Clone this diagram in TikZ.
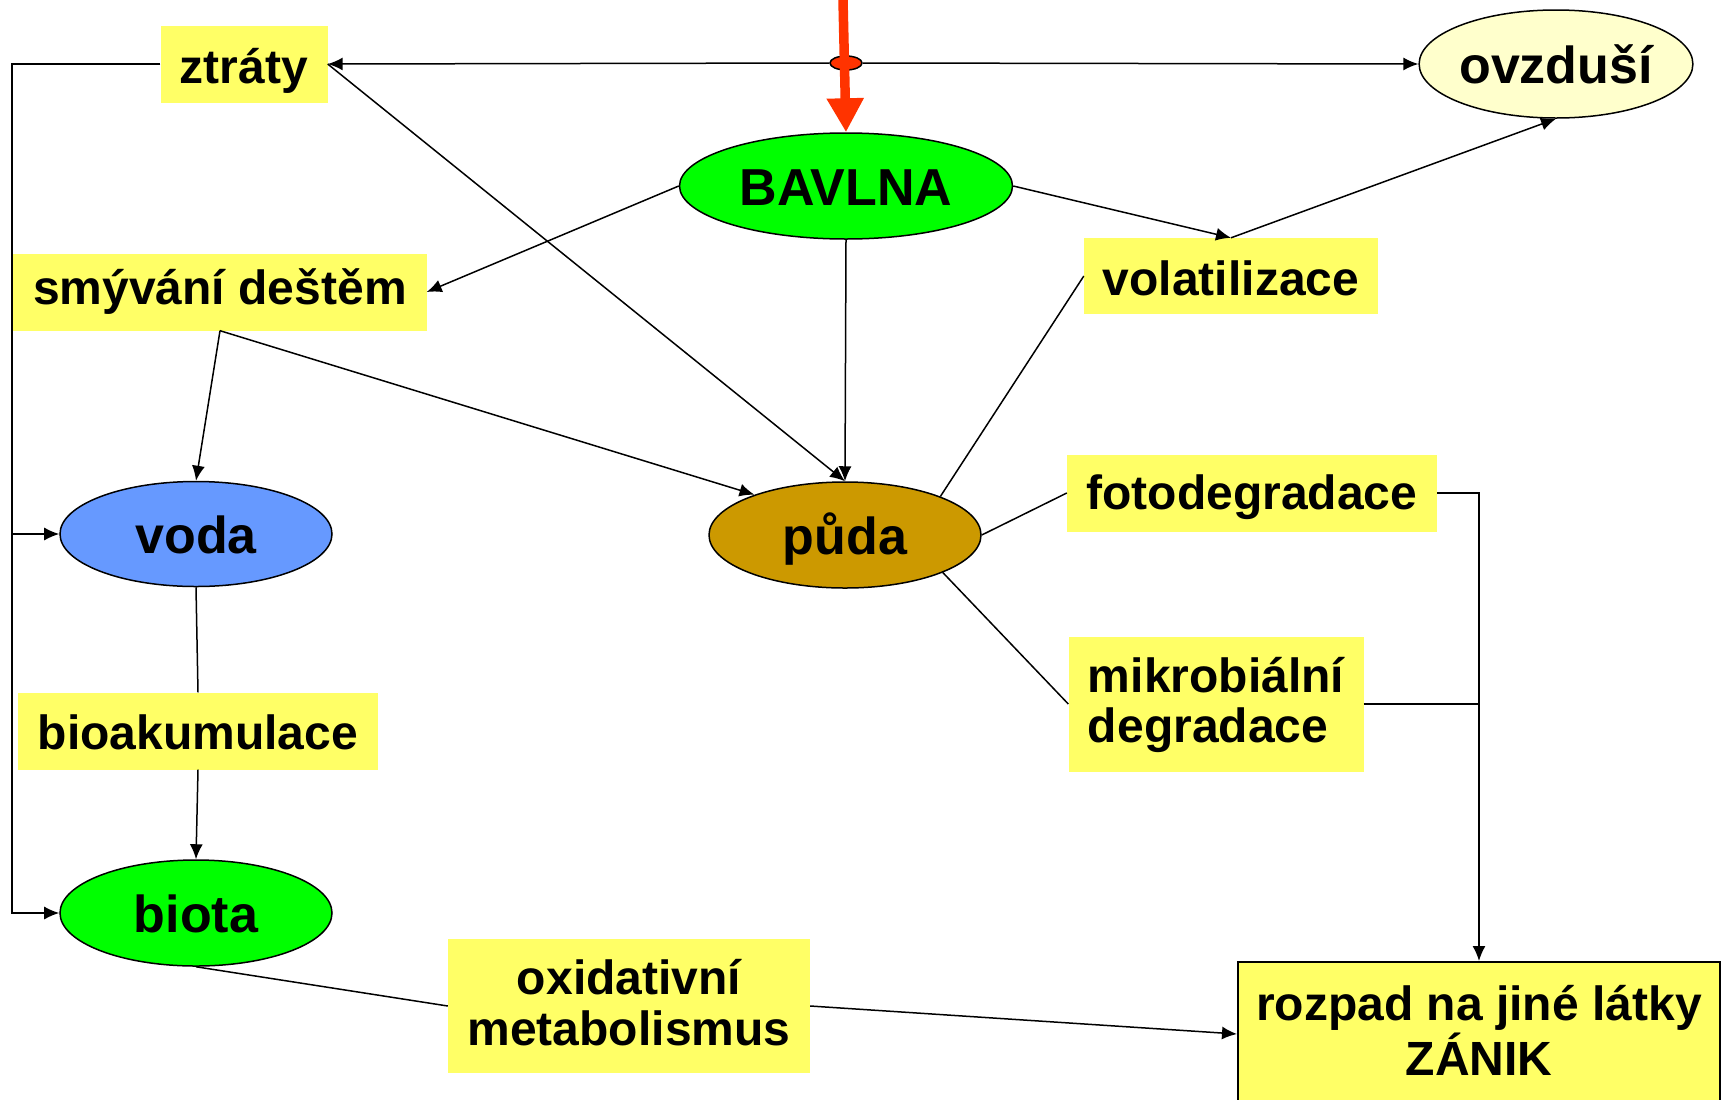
\documentclass[tikz,border=0pt]{standalone}
\usepackage{fontspec}
\setmainfont{Liberation Sans}
\usetikzlibrary{shapes.geometric,arrows.meta,calc}
\definecolor{boxyellow}{HTML}{FFFF66}
\definecolor{airyellow}{HTML}{FFFFCC}
\definecolor{brightgreen}{HTML}{00FF00}
\definecolor{waterblue}{HTML}{6699FF}
\definecolor{soilbrown}{HTML}{CC9900}
\definecolor{inred}{HTML}{FF3300}
\newcommand{\mytopstrut}{\rule{0pt}{45bp}}
\newcommand{\mybotstrut}{\rule[-18bp]{0pt}{0pt}}
\begin{document}
\begin{tikzpicture}[x=1bp,y=-1bp,
  lbl/.style={rectangle,fill=boxyellow,inner sep=0pt,font=\fontsize{48bp}{56bp}\selectfont\bfseries,align=center},
  one/.style={text depth=10bp,text height=#1},
  ell/.style={ellipse,draw=black,line width=1.5bp,inner sep=0pt,font=\fontsize{52bp}{60bp}\selectfont\bfseries,text depth=10bp,text height=49bp},
  conn/.style={line width=1.5bp,draw=black},
  arr/.style={conn,-{Latex[length=15bp,width=13bp]}}
]
\useasboundingbox (0,0) rectangle (1729,1099);
\clip (0,0) rectangle (1729,1099);

% nodes
\node[lbl,one=48bp,minimum width=167bp,minimum height=77bp] (ztr) at (244,64) {ztráty};
\node[ell,fill=airyellow,minimum width=272bp,minimum height=108bp] (ovz) at (1556,64) {ovzduší};
\node[ell,fill=brightgreen,minimum width=333bp,minimum height=106bp] (bav) at (846,186) {BAVLNA};
\node[lbl,one=35bp,minimum width=413bp,minimum height=77bp] (smy) at (220,292) {smývání deštěm};
\node[lbl,one=48bp,minimum width=294bp,minimum height=76bp] (vol) at (1231,276) {volatilizace};
\node[ell,fill=waterblue,minimum width=272bp,minimum height=105bp] (voda) at (196,534) {voda};
\node[ell,fill=soilbrown,minimum width=272bp,minimum height=106bp] (puda) at (845,535) {půda};
\node[lbl,one=43bp,minimum width=370bp,minimum height=77bp] (foto) at (1252,493) {fotodegradace};
\node[lbl,minimum width=295bp,minimum height=135bp,align=left] (mikro) at (1216,704) {\mytopstrut mikrobiální\\[-6bp]degradace\mybotstrut};
\node[lbl,one=47bp,minimum width=359bp,minimum height=77bp] (bioak) at (198,731) {bioakumulace};
\node[ell,fill=brightgreen,minimum width=272bp,minimum height=106bp] (biota) at (196,913) {biota};
\node[lbl,minimum width=362bp,minimum height=134bp] (oxi) at (629,1006) {\mytopstrut oxidativní\\[-5bp]metabolismus\mybotstrut};
\node[lbl,draw=black,line width=2bp,minimum width=482bp,minimum height=144bp] (roz) at (1479,1034) {\mytopstrut rozpad na jiné látky\\[-1bp]ZÁNIK\mybotstrut};

% junction on the top line
\node[ellipse,draw=black,line width=1.5bp,fill=inred,minimum width=32bp,minimum height=14bp,inner sep=0pt] (jn) at (846,63) {};
\coordinate (src) at (843,0);
\coordinate (lft) at (12,64);

% top line
\draw[arr] (jn.west) -- (ztr.east);
\draw[arr] (jn.east) -- (ovz.west);

% incoming red arrow
\draw[inred,line width=9.5bp,-{Triangle[length=34bp,width=35bp]}] (src) -- (bav.north);

% connectors
\draw[arr] (bav.west) -- (smy.east);
\draw[arr] (bav.south) -- (puda.north);
\draw[arr] (bav.east) -- (vol.north);
\draw[arr] (vol.north) -- (ovz.south);
\draw[arr] (ztr.east) -- (puda.north);
\draw[arr] (smy.south) -- (voda.north);
\draw[arr] (smy.south) -- (puda.156);
\draw[conn] (vol.west) -- (puda.22);
\draw[conn] (puda.east) -- (foto.west);
\draw[conn] (puda.-21) -- (mikro.west);
\draw[arr] (foto.east) -| (roz.north);
\draw[conn] (mikro.east) -- (mikro.east -| roz.north);
\draw[conn] (voda.south) -- (bioak.north);
\draw[arr] (bioak.south) -- (biota.north);
\draw[conn] (biota.south) -- (oxi.west);
\draw[arr] (oxi.east) -- (roz.west);

% left loop
\draw[arr] (ztr.west) -- (lft) |- (biota.west);
\draw[arr] (lft |- voda.west) -- (voda.west);
\end{tikzpicture}
\end{document}
